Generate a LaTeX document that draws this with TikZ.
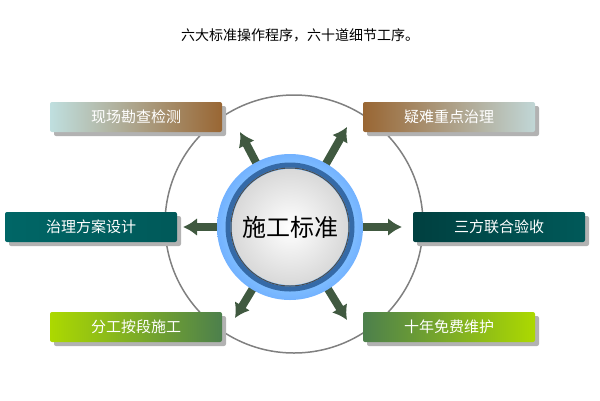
\documentclass[tikz,border=0pt]{standalone}
\usepackage{fontspec}
\newfontfamily\cjk{Noto Sans CJK SC}
\usetikzlibrary{shadings,arrows.meta,calc}
\begin{document}
\begin{tikzpicture}[x=1pt,y=-1pt,
  bx/.style={rounded corners=2pt,minimum width=172pt,minimum height=30pt,inner sep=0pt,font=\cjk\fontsize{15}{15}\selectfont,text=white},
  shd/.style={fill=gray!60,rounded corners=2pt},
  arr/.style={-{Latex[length=14pt,width=18pt]},line width=8pt,draw=green!20!black!50!gray}]
\useasboundingbox (0,0) rectangle (600,400);
\node[font=\cjk\fontsize{14}{14}\selectfont] (title) at (300,35) {六大标准操作程序，六十道细节工序。};
\draw[gray,line width=1.5pt] (294,224) circle (129);
% shadows
\foreach \x/\y in {136/117,449/117,91/227,499/227,136/327,449/327}
  \fill[shd] (\x-86+4,\y-15+4) rectangle (\x+86+4,\y+15+4);
\node[bx,left color=teal!25!white,right color=brown!80!black] (a) at (136,117) {现场勘查检测};
\node[bx,left color=brown!80!black,right color=teal!20!white!85!gray] (b) at (449,117) {疑难重点治理};
\node[bx,left color=teal!80!black,right color=teal!70!black] (c) at (91,227) {治理方案设计};
\node[bx,left color=teal!50!black,right color=teal!70!black] (d) at (499,227) {三方联合验收};
\node[bx,left color=lime!70!olive,right color=black!50!green!40!gray] (e) at (136,327) {分工按段施工};
\node[bx,left color=black!50!green!40!gray,right color=lime!70!olive] (f) at (449,327) {十年免费维护};
% center
\coordinate (o) at (290,227);
\foreach \n/\x/\y in {t1/240/132,t2/347/127,t3/183/227,t4/402/227,t5/235/318,t6/347/320}{
  \coordinate (\n) at (\x,\y);
  \draw[arr] ($(o)!70pt!(\n)$) -- (\n);
}
\shade[inner color=cyan!25!white,outer color=cyan!45!blue!55!white] (o) circle (73);
\draw[line width=5pt,cyan!50!blue!80!black] (o) circle (62);
\shade[inner color=white,outer color=gray!30] (o) circle (58);
\draw[black!70,line width=1pt] (o) circle (59);
\node[font=\cjk\fontsize{24}{24}\selectfont] (ctr) at (o) {施工标准};
\end{tikzpicture}
\end{document}
